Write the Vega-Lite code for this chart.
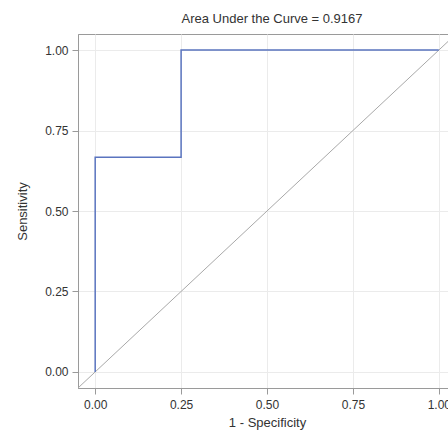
{
  "$schema": "https://vega.github.io/schema/vega-lite/v6.json",
  "autosize": {"type": "none"},
  "padding": {"left": 78, "top": 34, "right": 0, "bottom": 44},
  "width": 378,
  "height": 354,
  "title": {
    "text": "Area Under the Curve = 0.9167",
    "font": "Liberation Sans",
    "fontSize": 13,
    "fontWeight": "normal",
    "color": "#333333",
    "anchor": "middle",
    "dx": 5,
    "offset": 8
  },
  "config": {
    "view": {"stroke": "#9a9a9a", "strokeWidth": 1},
    "axis": {
      "labelFont": "Liberation Sans",
      "labelFontSize": 12,
      "labelColor": "#333333",
      "titleFont": "Liberation Sans",
      "titleFontSize": 13,
      "titleFontWeight": "normal",
      "titleColor": "#333333",
      "gridColor": "#ebebeb",
      "gridWidth": 1,
      "domainColor": "#9a9a9a",
      "tickColor": "#9a9a9a",
      "tickSize": 6
    }
  },
  "datasets": {
    "roc": [
      {"step": 1, "fpr": 0, "tpr": 0},
      {"step": 2, "fpr": 0, "tpr": 0.6667},
      {"step": 3, "fpr": 0.25, "tpr": 0.6667},
      {"step": 4, "fpr": 0.25, "tpr": 1},
      {"step": 5, "fpr": 1, "tpr": 1}
    ],
    "diag": [
      {"step": 1, "fpr": -0.05, "tpr": -0.05},
      {"step": 2, "fpr": 1.05, "tpr": 1.05}
    ]
  },
  "layer": [
    {
      "data": {"name": "diag"},
      "mark": {"type": "line", "color": "#a8a8a8", "strokeWidth": 1, "clip": true},
      "encoding": {
        "x": {"field": "fpr", "type": "quantitative", "scale": {"domain": [-0.05, 1.05], "nice": false, "zero": false},
          "axis": {"values": [0, 0.25, 0.5, 0.75, 1], "format": ".2f", "title": "1 - Specificity", "labelPadding": 5, "titlePadding": 6}},
        "y": {"field": "tpr", "type": "quantitative", "scale": {"domain": [-0.05, 1.05], "nice": false, "zero": false},
          "axis": {"values": [0, 0.25, 0.5, 0.75, 1], "format": ".2f", "title": "Sensitivity", "labelPadding": 4, "titlePadding": 15}},
        "order": {"field": "step"}
      }
    },
    {
      "data": {"name": "roc"},
      "mark": {"type": "line", "color": "#5a74bf", "strokeWidth": 1.5, "clip": true},
      "encoding": {
        "x": {"field": "fpr", "type": "quantitative"},
        "y": {"field": "tpr", "type": "quantitative"},
        "order": {"field": "step"}
      }
    }
  ]
}
